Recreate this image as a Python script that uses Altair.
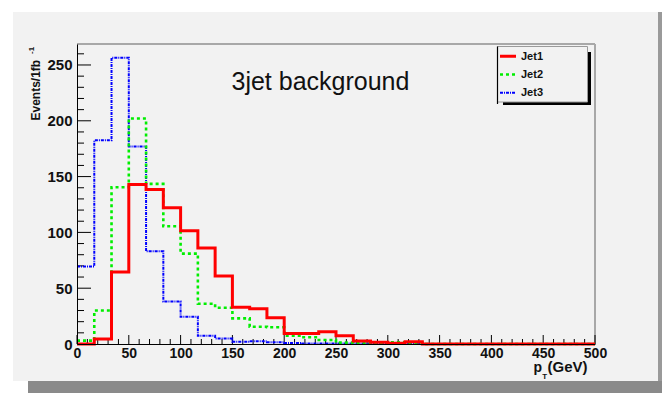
import altair as alt
import pandas as pd

# ---------------- data ----------------
bin_edges = [0, 16.67, 33.33, 50, 66.67, 83.33, 100, 116.67, 133.33, 150,
             166.67, 183.33, 200, 216.67, 233.33, 250, 266.67, 283.33, 300, 316.67,
             333.33, 350, 366.67, 383.33, 400, 416.67, 433.33, 450, 466.67, 483.33, 500]
jet1 = [0, 4.5, 64.5, 143, 138.5, 122, 101.5, 86, 61, 33,
        31.5, 23.5, 9.5, 9.5, 11, 7.5, 2.7, 1.5, 0.6, 2,
        0, 0, 0, 0, 0, 0, 0, 0, 0, 0]
jet2 = [3, 30, 140.5, 202, 143.5, 105.5, 81, 36, 32.5, 23,
        15.5, 15, 7.4, 6, 3.6, 1.2, 1, 0.5, 1.5, 1,
        0, 0, 0, 0, 0, 0, 0, 0, 0, 0]
jet3 = [69.5, 182.5, 256.5, 177, 83, 38, 24.5, 7.5, 5, 2,
        2.5, 1.5, 1, 0.5, 0.5, 0.5, 0.5, 0, 0, 0,
        0, 0, 0, 0, 0, 0, 0, 0, 0, 0]
series_names = ["Jet1", "Jet2", "Jet3"]
series_colors = ["#ff0000", "#00ee00", "#0000ff"]
series_dash = [[1, 0], [3, 3], [3, 1, 1, 1]]
series_width = [3, 2.6, 2]

x_major = [0, 50, 100, 150, 200, 250, 300, 350, 400, 450, 500]
x_minor = [v for v in range(0, 501, 10) if v % 50 != 0]
y_major = [0, 50, 100, 150, 200, 250]
y_minor = [v for v in range(0, 261, 10) if v % 50 != 0]

title_text = "3jet background"
FONT = "Liberation Sans"
W, H = 518, 300
one = alt.Data(values=[{"a": 1}])

# ---------------- scales / axes ----------------
xs = alt.Scale(domain=[0, 500], nice=False, zero=True)
ys = alt.Scale(domain=[0, 268.8], nice=False, zero=True)
x_axis = alt.Axis(values=x_major, title=None, grid=False, tickSize=0, labelFlush=False,
                  labelPadding=2, labelFont=FONT, labelFontSize=14, labelFontWeight="bold",
                  labelColor="#111", domainColor="#000", domainWidth=1, zindex=1)
y_axis = alt.Axis(values=y_major, title=None, grid=False, tickSize=0, labelFlush=False,
                  labelPadding=5, labelFont=FONT, labelFontSize=15, labelFontWeight="bold",
                  labelColor="#111", domainColor="#000", domainWidth=1, zindex=1)
X = lambda: alt.X("x:Q", scale=xs, axis=x_axis)
Y = lambda: alt.Y("y:Q", scale=ys, axis=y_axis)

layers = []

# outer panel and its shadows
layers.append(alt.Chart(one).mark_rect(color="#f2f2f2").encode(
    x=alt.value(-64), x2=alt.value(581), y=alt.value(-32), y2=alt.value(337)))
layers.append(alt.Chart(one).mark_rect(color="#9a9a9a").encode(
    x=alt.value(581), x2=alt.value(585), y=alt.value(-32), y2=alt.value(349)))
layers.append(alt.Chart(one).mark_rect(color="#8a8a8a").encode(
    x=alt.value(-49), x2=alt.value(585), y=alt.value(337), y2=alt.value(349)))

# frame top / right
layers.append(alt.Chart(one).mark_rule(color="#a8a8a8", strokeWidth=2).encode(
    x=alt.value(0), x2=alt.value(W), y=alt.value(0)))
layers.append(alt.Chart(one).mark_rule(color="#a8a8a8", strokeWidth=2).encode(
    x=alt.value(W), y=alt.value(0), y2=alt.value(H)))

# ticks (inside the frame, ROOT style)
layers.append(alt.Chart(pd.DataFrame({"y": y_major})).mark_rule(color="#000", strokeWidth=1).encode(
    y=Y(), x=alt.value(0), x2=alt.value(14)))
layers.append(alt.Chart(pd.DataFrame({"y": y_minor})).mark_rule(color="#000", strokeWidth=1).encode(
    y=Y(), x=alt.value(0), x2=alt.value(7)))
layers.append(alt.Chart(pd.DataFrame({"x": x_major})).mark_rule(color="#000", strokeWidth=1).encode(
    x=X(), y=alt.value(H), y2=alt.value(H - 9)))
layers.append(alt.Chart(pd.DataFrame({"x": x_minor})).mark_rule(color="#000", strokeWidth=1).encode(
    x=X(), y=alt.value(H), y2=alt.value(H - 5)))

# histograms (drawn Jet3, Jet2, Jet1 so red lies on top)
series_vals = [jet1, jet2, jet3]
for i in [2, 1, 0]:
    vals = series_vals[i]
    df = pd.DataFrame({"x": bin_edges, "y": vals + [vals[-1]]})
    layers.append(alt.Chart(df).mark_line(
        interpolate="step-after", color=series_colors[i], strokeWidth=series_width[i],
        strokeDash=series_dash[i], strokeCap="butt", strokeJoin="miter").encode(x=X(), y=Y()))

# title
layers.append(alt.Chart(one).mark_text(text=title_text, font=FONT, fontSize=25, color="#111",
                                       align="left", baseline="alphabetic").encode(
    x=alt.value(154.5), y=alt.value(46)))

# y axis title with superscript
layers.append(alt.Chart(one).mark_text(text="Events/1fb", font=FONT, fontSize=12, fontWeight="bold",
                                       color="#111", align="left", baseline="alphabetic", angle=270).encode(
    x=alt.value(-37), y=alt.value(76.5)))
layers.append(alt.Chart(one).mark_text(text="-1", font=FONT, fontSize=8, fontWeight="bold",
                                       color="#111", align="left", baseline="alphabetic", angle=270).encode(
    x=alt.value(-43), y=alt.value(10)))

# x axis title p_T(GeV)
layers.append(alt.Chart(one).mark_text(text="p", font=FONT, fontSize=14, fontWeight="bold",
                                       color="#111", align="left", baseline="alphabetic").encode(
    x=alt.value(456.5), y=alt.value(328)))
layers.append(alt.Chart(one).mark_text(text="T", font=FONT, fontSize=8, fontWeight="bold",
                                       color="#111", align="left", baseline="alphabetic").encode(
    x=alt.value(465.2), y=alt.value(335)))
layers.append(alt.Chart(one).mark_text(text="(GeV)", font=FONT, fontSize=15, fontWeight="bold",
                                       color="#111", align="left", baseline="alphabetic").encode(
    x=alt.value(470.5), y=alt.value(328)))

# legend box with shadow
layers.append(alt.Chart(one).mark_rect(color="#000").encode(
    x=alt.value(426), x2=alt.value(514), y=alt.value(8), y2=alt.value(61)))
layers.append(alt.Chart(one).mark_rect(fill="#f2f2f2", stroke="#9a9a9a", strokeWidth=1).encode(
    x=alt.value(420.5), x2=alt.value(510.5), y=alt.value(2.5), y2=alt.value(58)))
layers.append(alt.Chart(one).mark_rule(color="#000", strokeWidth=1.2).encode(
    x=alt.value(420.5), y=alt.value(2.5), y2=alt.value(60)))
for i, name in enumerate(series_names):
    yy = 12.3 + 18.2 * i
    layers.append(alt.Chart(one).mark_rule(
        color=series_colors[i], strokeWidth=series_width[i], strokeDash=series_dash[i],
        strokeCap="butt").encode(x=alt.value(423), x2=alt.value(439), y=alt.value(yy)))
    layers.append(alt.Chart(one).mark_text(text=name, font=FONT, fontSize=11, fontWeight="bold",
                                           color="#111", align="left", baseline="middle").encode(
        x=alt.value(444), y=alt.value(yy + 0.5)))

chart = alt.layer(*layers).properties(
    width=W, height=H,
    autosize=alt.AutoSizeParams(type="none"),
    padding={"left": 77, "top": 44, "right": 67, "bottom": 49},
    background="#ffffff",
).configure_view(strokeWidth=0)

chart.save("out.html", embed_options={"renderer": "svg", "actions": False})
